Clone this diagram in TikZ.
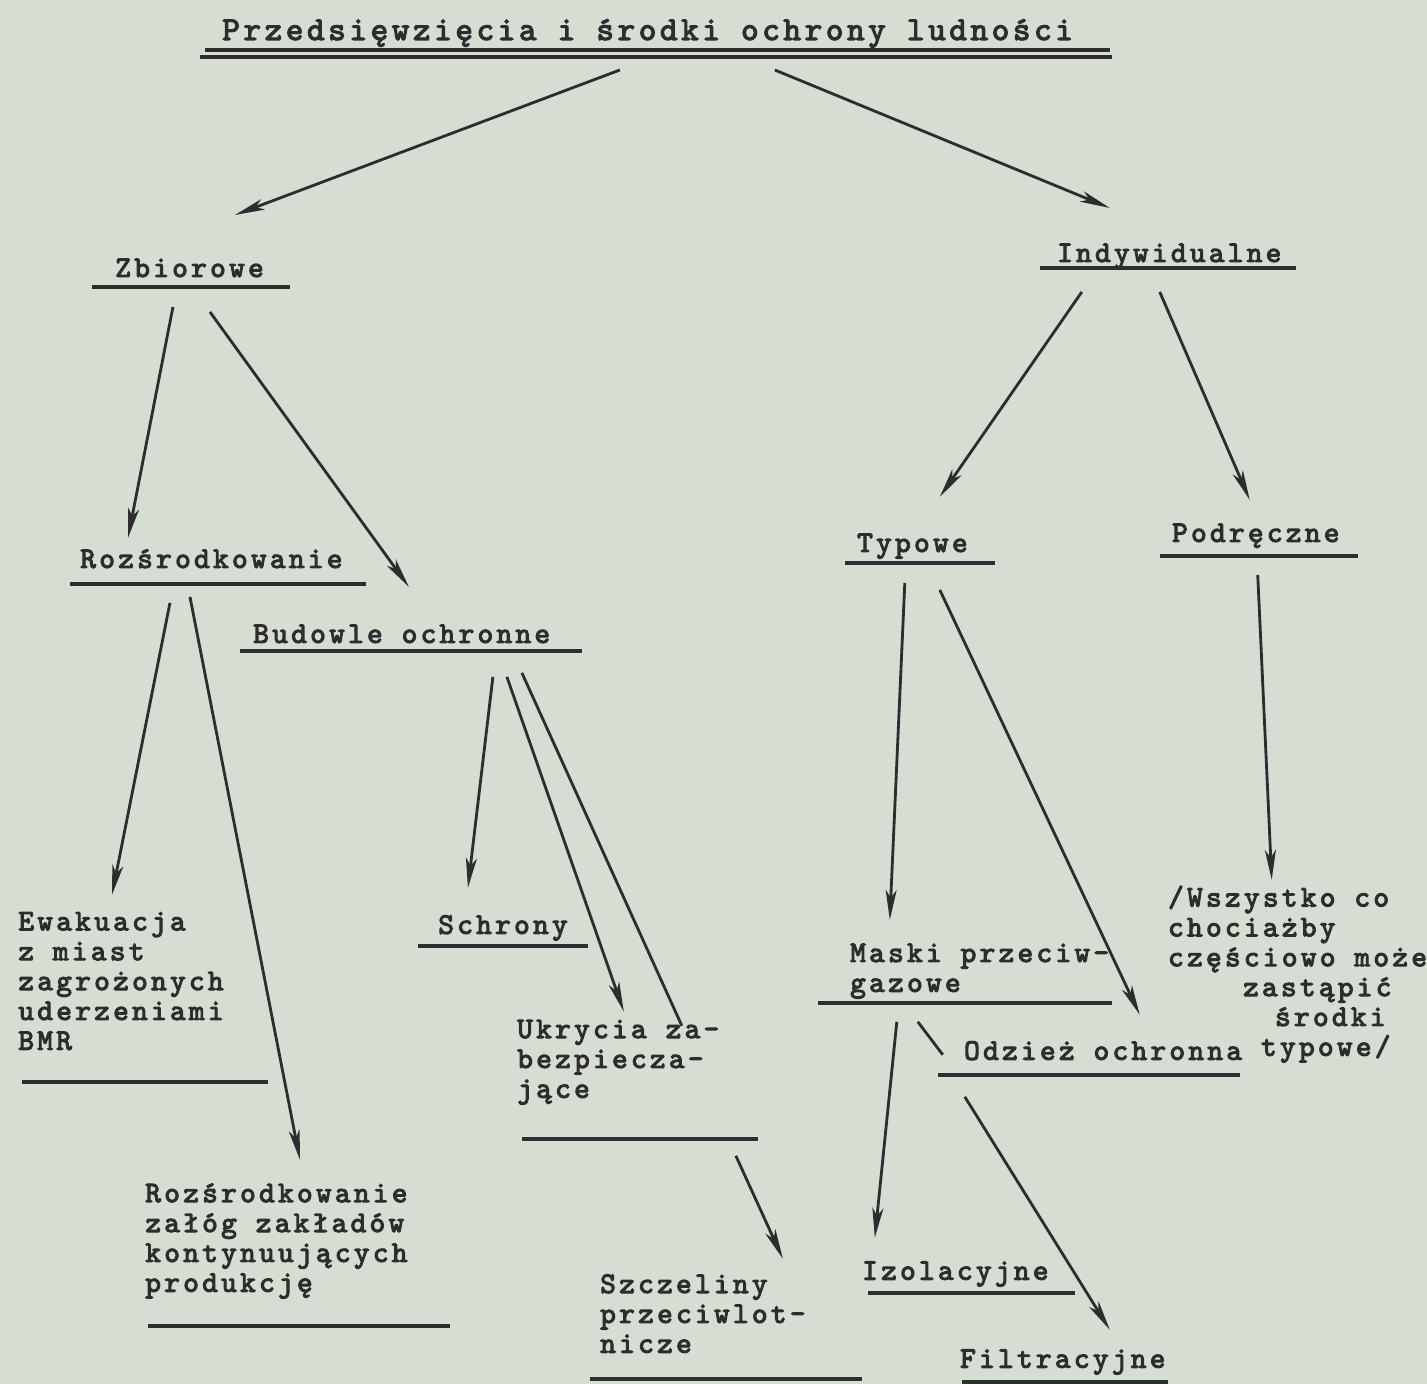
\documentclass[tikz,border=0pt]{standalone}
\usepackage{fontspec}
\usepackage{tikz}
\usetikzlibrary{arrows.meta}
\newfontfamily\typew{lmmono10-regular.otf}[FakeBold=3.5,LetterSpace=11]
\definecolor{paper}{RGB}{214,222,212}
\definecolor{ink}{RGB}{45,45,45}

\begin{document}
\begin{tikzpicture}
    [
    x=0.02cm, y=-0.02cm,
    lbl/.style={anchor=base west,inner sep=0pt,align=left,text=ink,font=\typew\fontsize{17}{17}\selectfont},
    head/.style={lbl,font=\typew\fontsize{19}{19}\selectfont},
    uline/.style={draw=ink,line width=2.2pt},
    arr/.style={draw=ink,line width=1.6pt,-{Stealth[length=6mm,width=2.2mm,inset=1.6mm]}},
    link/.style={draw=ink,line width=1.6pt}
    ]
    \fill[paper] (0,0) rectangle (1427,1384);

    % multi-line nodes sit on the baseline of their last line
    \node (title) at (222,40) [head] {Przedsięwzięcia i środki ochrony ludności};
    \node (zbior) at (115,277) [lbl] {Zbiorowe};
    \node (indyw) at (1057,262) [lbl] {Indywidualne};
    \node (rozs) at (80,568) [lbl] {Rozśrodkowanie};
    \node (budow) at (253,643) [lbl] {Budowle ochronne};
    \node (typ) at (857,552) [lbl] {Typowe};
    \node (podr) at (1172,542) [lbl] {Podręczne};
    \node (ewak) at (18,1050) [lbl] {Ewakuacja\\z miast\\zagrożonych\\uderzeniami\\BMR};
    \node (zalog) at (145,1292) [lbl] {Rozśrodkowanie\\załóg zakładów\\kontynuujących\\produkcję};
    \node (schr) at (438,934) [lbl] {Schrony};
    \node (ukr) at (517,1098) [lbl] {Ukrycia za-\\bezpiecza-\\jące};
    \node (szcz) at (600,1353) [lbl] {Szczeliny\\przeciwlot-\\nicze};
    \node (maski) at (850,992) [lbl] {Maski przeciw-\\gazowe};
    \node (odziez) at (964,1060) [lbl] {Odzież ochronna};
    \node (wszys) at (1168,1056) [lbl] {/Wszystko co\\chociażby\\częściowo może\\\hspace*{1.5cm}zastąpić\\\hspace*{2.14cm}środki\\\hspace*{1.86cm}typowe/};
    \node (izol) at (862,1280) [lbl] {Izolacyjne};
    \node (filtr) at (960,1368) [lbl] {Filtracyjne};

    \draw [uline] (205,50) -- (1110,50) (200,57) -- (1112,57);
    \draw [uline] (92,287) -- (290,287);
    \draw [uline] (1040,268) -- (1296,268);
    \draw [uline] (70,584) -- (366,584);
    \draw [uline] (240,651) -- (582,651);
    \draw [uline] (845,563) -- (995,563);
    \draw [uline] (1160,556) -- (1358,556);
    \draw [uline] (22,1082) -- (268,1082);
    \draw [uline] (148,1326) -- (450,1326);
    \draw [uline] (418,946) -- (588,946);
    \draw [uline] (522,1139) -- (758,1139);
    \draw [uline] (590,1379) -- (862,1379);
    \draw [uline] (818,1003) -- (1112,1003);
    \draw [uline] (938,1075) -- (1240,1075);
    \draw [uline] (868,1293) -- (1075,1293);
    \draw [uline] (962,1382) -- (1168,1382);

    \coordinate (t-l) at (620,70);   \coordinate (zb-in) at (235,215);
    \coordinate (t-r) at (775,70);   \coordinate (ind-in) at (1110,208);
    \coordinate (zb-l) at (173,307); \coordinate (rozs-in) at (128,538);
    \coordinate (zb-r) at (210,312); \coordinate (bud-in) at (409,587);
    \coordinate (ind-l) at (1082,292); \coordinate (typ-in) at (940,497);
    \coordinate (ind-r) at (1160,292); \coordinate (podr-in) at (1250,500);
    \coordinate (rozs-l) at (170,603); \coordinate (ewak-in) at (112,895);
    \coordinate (rozs-r) at (190,597); \coordinate (zalog-in) at (300,1160);
    \coordinate (bud-a) at (493,677); \coordinate (schr-in) at (468,888);
    \coordinate (bud-b) at (507,677); \coordinate (ukr-in) at (624,1012);
    \coordinate (bud-c) at (522,673); \coordinate (ukr-c) at (682,1026);
    \coordinate (ukr-out) at (736,1156); \coordinate (szcz-in) at (783,1259);
    \coordinate (typ-l) at (905,583); \coordinate (maski-in) at (890,920);
    \coordinate (typ-r) at (940,590); \coordinate (odz-in) at (1140,1015);
    \coordinate (podr-out) at (1258,575); \coordinate (wszys-in) at (1272,880);
    \coordinate (maski-r) at (918,1022); \coordinate (odz-l) at (943,1055);
    \coordinate (maski-out) at (897,1022); \coordinate (izol-in) at (875,1238);
    \coordinate (odz-out) at (965,1097); \coordinate (filtr-in) at (1110,1330);

    \draw [arr] (t-l) to (zb-in);
    \draw [arr] (t-r) to (ind-in);
    \draw [arr] (zb-l) to (rozs-in);
    \draw [arr] (zb-r) to (bud-in);
    \draw [arr] (ind-l) to (typ-in);
    \draw [arr] (ind-r) to (podr-in);
    \draw [arr] (rozs-l) to (ewak-in);
    \draw [arr] (rozs-r) to (zalog-in);
    \draw [arr] (bud-a) to (schr-in);
    \draw [arr] (bud-b) to (ukr-in);
    \draw [link] (bud-c) to (ukr-c);
    \draw [arr] (ukr-out) to (szcz-in);
    \draw [arr] (typ-l) to (maski-in);
    \draw [arr] (typ-r) to (odz-in);
    \draw [arr] (podr-out) to (wszys-in);
    \draw [link] (maski-r) to (odz-l);
    \draw [arr] (maski-out) to (izol-in);
    \draw [arr] (odz-out) to (filtr-in);
\end{tikzpicture}
\end{document}
